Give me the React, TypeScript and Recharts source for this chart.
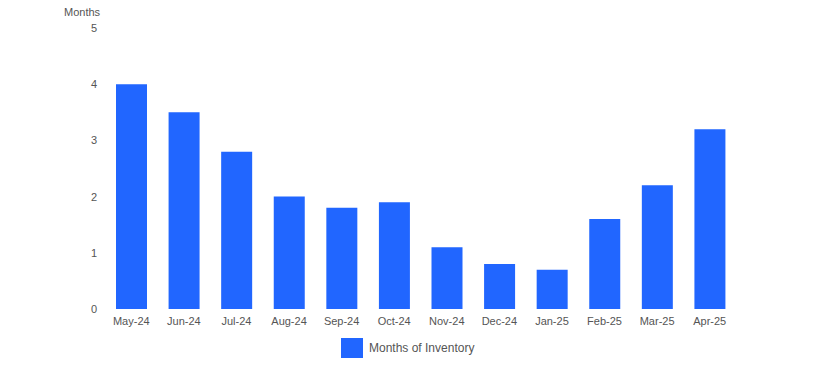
import { BarChart, Bar, XAxis, YAxis, Legend } from 'recharts';

const months = ['May-24', 'Jun-24', 'Jul-24', 'Aug-24', 'Sep-24', 'Oct-24', 'Nov-24', 'Dec-24', 'Jan-25', 'Feb-25', 'Mar-25', 'Apr-25'];
const inventory = [4.0, 3.5, 2.8, 2.0, 1.8, 1.9, 1.1, 0.8, 0.7, 1.6, 2.2, 3.2];
const yTicks = [0, 1, 2, 3, 4, 5];

const BAR_COLOR = '#2166ff';
const TEXT_COLOR = '#555';

const data = months.map((m, i) => ({ month: m, value: inventory[i] }));

function LegendContent() {
    return (
        <div style={{ display: 'flex', alignItems: 'center', fontFamily: 'Arial, "Liberation Sans", sans-serif', fontSize: 12, color: TEXT_COLOR }}>
            <span style={{ display: 'inline-block', width: 22, height: 20, background: BAR_COLOR, marginRight: 6 }} />
            <span>Months of Inventory</span>
        </div>
    );
}

export default function App() {
    return (
        <div style={{ position: 'absolute', left: 0, top: 0, width: 814, height: 367, background: '#fff', fontFamily: 'Arial, "Liberation Sans", sans-serif' }}>
            <div style={{ position: 'absolute', left: 64, top: 6, fontSize: 11, color: TEXT_COLOR }}>Months</div>
            <BarChart width={814} height={367} data={data} margin={{ top: 28, right: 78, left: 65, bottom: 8 }}>
                <XAxis
                    dataKey="month"
                    axisLine={false}
                    tickLine={false}
                    interval={0}
                    tick={{ fill: TEXT_COLOR, fontSize: 11 }}
                />
                <YAxis
                    width={40}
                    domain={[0, 5]}
                    ticks={yTicks}
                    axisLine={false}
                    tickLine={false}
                    tick={{ fill: TEXT_COLOR, fontSize: 11 }}
                />
                <Legend
                    content={<LegendContent />}
                    wrapperStyle={{ position: 'absolute', left: 341, top: 338, width: 'auto', bottom: 'auto' }}
                />
                <Bar dataKey="value" fill={BAR_COLOR} barSize={31} isAnimationActive={false} />
            </BarChart>
        </div>
    );
}
